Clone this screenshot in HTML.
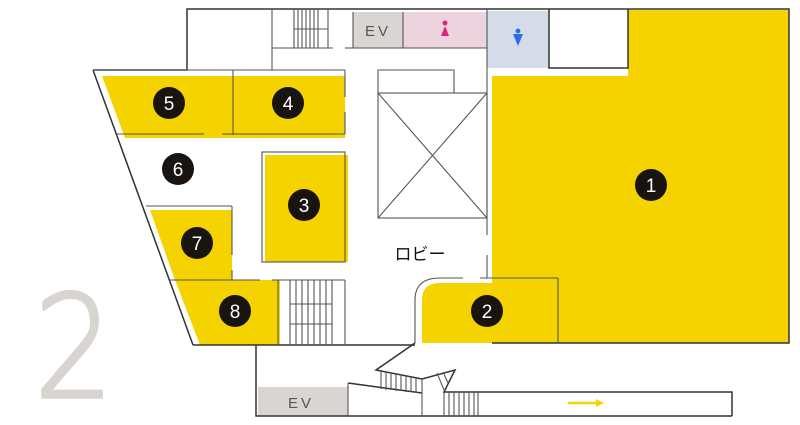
<!DOCTYPE html>
<html><head><meta charset="utf-8"><style>
html,body{margin:0;padding:0;background:#fff;width:800px;height:425px;overflow:hidden}
svg{display:block}
.n{font-family:"Liberation Sans",sans-serif;font-size:19px;fill:#fff;text-anchor:middle}
</style></head><body>
<svg width="800" height="425" viewBox="0 0 800 425" xmlns="http://www.w3.org/2000/svg">
<text x="34" y="397" font-family="DejaVu Sans, Liberation Sans, sans-serif" font-weight="200" font-size="142" fill="#d8d5d0" stroke="#d8d5d0" stroke-width="3.5" stroke-linejoin="round" textLength="80" lengthAdjust="spacingAndGlyphs">2</text>

<rect x="353" y="12" width="50" height="36" fill="#d9d6d2"/>
<rect x="403" y="12" width="84" height="36" fill="#ecd3dd"/>
<rect x="487" y="11" width="62" height="57" fill="#d5dbe8"/>
<rect x="258" y="387" width="90" height="29" fill="#d9d6d2"/>

<g fill="#f5d300">
<polygon points="492,76 628,76 628,10 789,10 789,343 492,343"/>
<path d="M422,343 L422,300 Q422,283 440,283 L558,283 L558,343 Z"/>
<polygon points="102,76 233,76 233,138 125,138"/>
<rect x="233" y="76" width="112" height="62"/>
<rect x="265" y="155" width="83" height="107"/>
<polygon points="150,210 232,210 232,280 175,280"/>
<polygon points="175,280 280,280 280,345 200,345"/>
</g>

<g fill="none" stroke="#333" stroke-width="1.5">
<polyline points="93,70 187,70 187,9 628,9"/>
<polyline points="628,9 789,9 789,343 492,343"/>
<polyline points="549,9 549,68 628,68 628,9"/>
<line x1="93" y1="70" x2="193" y2="345"/>
<line x1="193" y1="345" x2="415" y2="345"/>
<polyline points="415,343 376,370 422,379 455,370 444,392 732,392 732,416"/>
<polyline points="256,345 256,416 732,416"/>
<line x1="348" y1="383" x2="422" y2="393"/>
</g>

<g fill="none" stroke="#555" stroke-width="1.1">
<line x1="272" y1="9" x2="272" y2="70"/>
<line x1="272" y1="48" x2="333" y2="48"/>
<line x1="345" y1="48" x2="353" y2="48"/>
<line x1="353" y1="12" x2="353" y2="48"/>
<line x1="403" y1="12" x2="403" y2="48"/>
<line x1="403" y1="48" x2="487" y2="48"/>
<line x1="353" y1="48" x2="403" y2="48"/>
<line x1="487" y1="9" x2="487" y2="68"/>
<line x1="294" y1="9" x2="294" y2="48"/><line x1="298" y1="9" x2="298" y2="48"/><line x1="302" y1="9" x2="302" y2="48"/><line x1="306" y1="9" x2="306" y2="48"/><line x1="310" y1="9" x2="310" y2="48"/><line x1="314" y1="9" x2="314" y2="48"/><line x1="318" y1="9" x2="318" y2="48"/><line x1="328" y1="9" x2="328" y2="48"/>
<line x1="294" y1="29" x2="328" y2="29"/>
<line x1="93" y1="70" x2="345" y2="70"/>
<line x1="233" y1="70" x2="233" y2="135"/>
<line x1="117" y1="134" x2="204" y2="134"/>
<line x1="222" y1="134" x2="345" y2="134"/>
<line x1="345" y1="70" x2="345" y2="97"/>
<line x1="345" y1="112" x2="345" y2="134"/>
<rect x="262" y="152" width="83" height="110"/>
<polyline points="378,93 378,70 454,70 454,93"/>
<rect x="378" y="93" width="109" height="125"/>
<line x1="378" y1="93" x2="487" y2="218"/>
<line x1="487" y1="93" x2="378" y2="218"/>
<line x1="487" y1="68" x2="487" y2="235"/>
<line x1="487" y1="255" x2="487" y2="278"/>
<path d="M415,343 L415,300 Q415,278 440,278 L463,278"/>
<line x1="480" y1="278" x2="558" y2="278"/>
<line x1="558" y1="278" x2="558" y2="343"/>
<line x1="146" y1="206" x2="232" y2="206"/>
<line x1="232" y1="206" x2="232" y2="255"/>
<line x1="232" y1="270" x2="232" y2="280"/>
<line x1="170" y1="280" x2="260" y2="280"/>
<line x1="272" y1="280" x2="345" y2="280"/>
<line x1="278" y1="280" x2="278" y2="345"/>
<line x1="345" y1="280" x2="345" y2="345"/>
<line x1="290" y1="280" x2="290" y2="345"/><line x1="296" y1="280" x2="296" y2="345"/><line x1="302" y1="280" x2="302" y2="345"/><line x1="308" y1="280" x2="308" y2="345"/><line x1="314" y1="280" x2="314" y2="345"/><line x1="320" y1="280" x2="320" y2="345"/><line x1="326" y1="280" x2="326" y2="345"/><line x1="332" y1="280" x2="332" y2="345"/>
<line x1="290" y1="304" x2="332" y2="304"/><line x1="290" y1="324" x2="332" y2="324"/>
<line x1="348" y1="383" x2="348" y2="416"/>
<line x1="422" y1="379" x2="422" y2="416"/>
<line x1="444" y1="392" x2="444" y2="416"/>
<line x1="381" y1="371" x2="381" y2="389"/><line x1="386" y1="372" x2="386" y2="390"/><line x1="391" y1="373" x2="391" y2="390"/><line x1="396" y1="374" x2="396" y2="391"/><line x1="401" y1="375" x2="401" y2="391"/><line x1="406" y1="376" x2="406" y2="392"/><line x1="411" y1="377" x2="411" y2="392"/><line x1="416" y1="378" x2="416" y2="393"/>
<line x1="449" y1="392" x2="449" y2="416"/><line x1="454" y1="392" x2="454" y2="416"/><line x1="459" y1="392" x2="459" y2="416"/><line x1="464" y1="392" x2="464" y2="416"/><line x1="469" y1="392" x2="469" y2="416"/><line x1="474" y1="392" x2="474" y2="416"/><line x1="478" y1="392" x2="478" y2="416"/>
<line x1="437" y1="373" x2="444" y2="390"/><line x1="443" y1="372" x2="448" y2="383"/>
</g>

<line x1="568" y1="403" x2="597" y2="403" stroke="#f5d300" stroke-width="2.5"/>
<polygon points="596,399 604,403 596,407" fill="#f5d300"/>

<text x="378" y="36" font-family="Liberation Sans, sans-serif" font-size="15" fill="#555" text-anchor="middle" letter-spacing="3">EV</text>
<text x="301" y="408" font-family="Liberation Sans, sans-serif" font-size="15" fill="#555" text-anchor="middle" letter-spacing="3">EV</text>

<circle cx="445" cy="23" r="2.4" fill="#e0207a"/>
<polygon points="445,26 441,36 449,36" fill="#e0207a"/>
<circle cx="518" cy="31" r="2.4" fill="#2a6fe0"/>
<polygon points="513,34 523,34 518,46" fill="#2a6fe0"/>

<text x="420" y="260" font-family="Liberation Sans, 'Noto Sans CJK JP', sans-serif" font-size="17" fill="#111" text-anchor="middle">ロビー</text>

<g fill="#1a1410">
<circle cx="651" cy="185" r="16"/><circle cx="487" cy="311" r="16"/><circle cx="304" cy="205" r="16"/>
<circle cx="288" cy="103" r="16"/><circle cx="169" cy="103" r="16"/><circle cx="178" cy="169" r="16"/>
<circle cx="197" cy="243" r="16"/><circle cx="235" cy="311" r="16"/>
</g>
<text class="n" x="651" y="192">1</text>
<text class="n" x="487" y="318">2</text>
<text class="n" x="304" y="212">3</text>
<text class="n" x="288" y="110">4</text>
<text class="n" x="169" y="110">5</text>
<text class="n" x="178" y="176">6</text>
<text class="n" x="197" y="250">7</text>
<text class="n" x="235" y="318">8</text>
</svg>
</body></html>
